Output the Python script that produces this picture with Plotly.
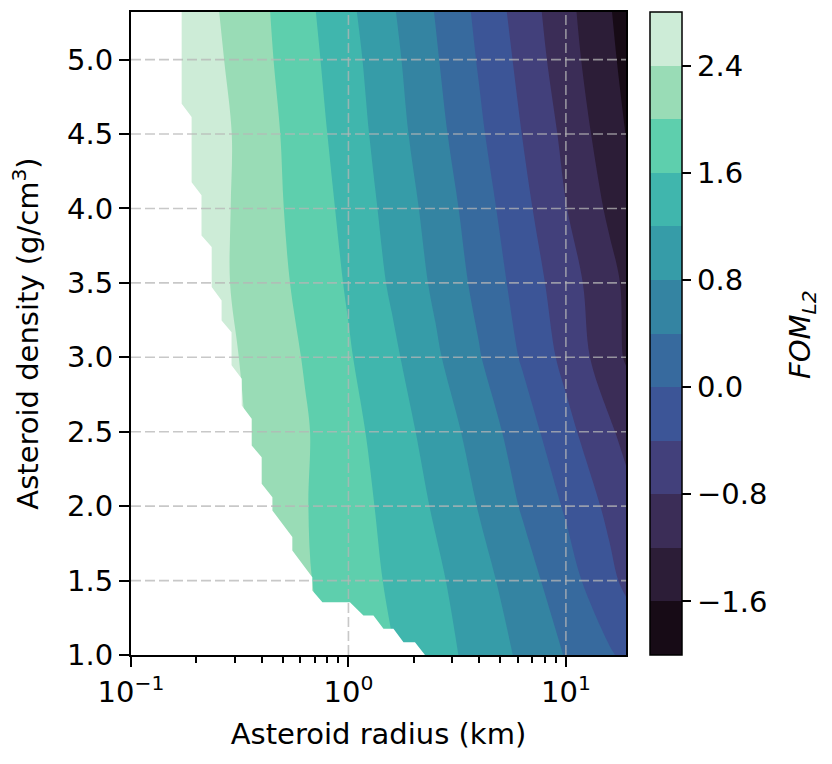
import math
import plotly.graph_objects as go

# ---------------- data ----------------
radius_km = [0.1, 0.158, 0.251, 0.398, 0.631, 1.0, 1.585, 2.512, 3.981, 6.31, 10.0, 15.85, 18.9]
density = [1.0, 1.5, 2.0, 2.5, 3.0, 3.5, 4.0, 4.5, 5.0, 5.32]

fom_rho_1_0 = [3.9, 3.2, 2.8, 2.4, 2.1, 1.887, 1.619, 1.354, 1.062, 0.726, 0.378, 0.044, -0.085]
fom_rho_1_5 = [3.8, 3.1, 2.7, 2.285, 2.04, 1.796, 1.547, 1.279, 0.948, 0.572, 0.168, -0.297, -0.488]
fom_rho_2_0 = [3.7, 3.0, 2.6, 2.273, 2.02, 1.767, 1.488, 1.154, 0.780, 0.363, -0.043, -0.493, -0.66]
fom_rho_2_5 = [3.6, 2.9, 2.566, 2.299, 2.036, 1.729, 1.398, 1.034, 0.636, 0.193, -0.281, -0.740, -0.916]
fom_rho_3_0 = [3.5, 2.825, 2.535, 2.254, 1.975, 1.638, 1.281, 0.863, 0.429, -0.042, -0.509, -1.034, -1.236]
fom_rho_3_5 = [3.5, 2.84, 2.48, 2.193, 1.899, 1.558, 1.144, 0.729, 0.291, -0.163, -0.619, -1.084, -1.265]
fom_rho_4_0 = [3.5, 2.88, 2.498, 2.164, 1.845, 1.491, 1.055, 0.643, 0.187, -0.282, -0.789, -1.265, -1.447]
fom_rho_4_5 = [3.4, 2.90, 2.516, 2.152, 1.801, 1.411, 0.967, 0.529, 0.068, -0.407, -0.895, -1.421, -1.61]
fom_rho_5_0 = [3.35, 2.885, 2.45, 2.099, 1.743, 1.342, 0.901, 0.441, -0.031, -0.508, -1.026, -1.521, -1.70]
fom_rho_5_32 = [3.3, 2.87, 2.41, 2.074, 1.705, 1.286, 0.842, 0.385, -0.087, -0.575, -1.080, -1.570, -1.756]

# boundary of the region with no valid FOM (left white area)
mask_edge_radius = [0.1, 0.171, 0.171, 0.190, 0.190, 0.211, 0.211, 0.235, 0.235, 0.261, 0.261,
                    0.290, 0.290, 0.323, 0.323, 0.359, 0.359, 0.399, 0.399, 0.447, 0.447,
                    0.552, 0.552, 0.682, 0.682, 0.759, 1.016, 1.172, 1.303, 1.449, 1.611,
                    1.791, 2.023, 2.249, 0.1]
mask_edge_density = [5.32, 5.32, 4.704, 4.614, 4.177, 4.088, 3.819, 3.741, 3.472, 3.382, 3.248,
                     3.169, 2.946, 2.856, 2.677, 2.587, 2.408, 2.329, 2.151, 2.060, 1.971,
                     1.792, 1.702, 1.523, 1.433, 1.355, 1.355, 1.265, 1.265, 1.176, 1.176,
                     1.086, 1.086, 1.0, 1.0]

level_start, level_end, level_step = -2.0, 2.8, 0.4
cbar_tickvals = [-1.6, -0.8, 0.0, 0.8, 1.6, 2.4]
cbar_ticktext = ["\u22121.6", "\u22120.8", "0.0", "0.8", "1.6", "2.4"]
cbar_title = "<i>FOM<sub>L2</sub></i>"
x_tickvals = [0.1, 1.0, 10.0]
x_ticktext = ["10<sup>\u22121</sup>", "10<sup>0</sup>", "10<sup>1</sup>"]
y_tickvals = [1.0, 1.5, 2.0, 2.5, 3.0, 3.5, 4.0, 4.5, 5.0]
x_grid_vals = [1.0, 10.0]
y_grid_vals = [1.5, 2.0, 2.5, 3.0, 3.5, 4.0, 4.5, 5.0]
x_range = [0.1, 18.9]
y_range = [1.0, 5.32]

band_colors = ["#170b16", "#2c1d37", "#3b2d57", "#42407b", "#3c5597", "#376a9e",
               "#3484a2", "#369ca8", "#40b6ad", "#5ecfad", "#99dcb6", "#cdecd7"]

# ---------------- figure ----------------
z = [fom_rho_1_0, fom_rho_1_5, fom_rho_2_0, fom_rho_2_5, fom_rho_3_0,
     fom_rho_3_5, fom_rho_4_0, fom_rho_4_5, fom_rho_5_0, fom_rho_5_32]

n = len(band_colors)
colorscale = []
for k, c in enumerate(band_colors):
    colorscale.append([k / n, c])
    colorscale.append([(k + 1) / n, c])

FONT = "DejaVu Sans"
FS = 29
PLOT_L, PLOT_R, PLOT_T, PLOT_B = 131, 626, 12, 655
W, H = 832, 764
pw = PLOT_R - PLOT_L
ph = PLOT_B - PLOT_T

fig = go.Figure()
fig.add_trace(go.Contour(
    x=radius_km, y=density, z=z,
    zmin=level_start, zmax=level_end + 1e-6,
    autocontour=False,
    contours=dict(start=level_start, end=level_end, size=level_step,
                  coloring="fill", showlines=False),
    line=dict(width=0),
    colorscale=colorscale,
    colorbar=dict(
        x=(650 - PLOT_L) / pw, xanchor="left", xpad=0, ypad=0,
        y=0.5, yanchor="middle", len=1.0, lenmode="fraction",
        thickness=32, thicknessmode="pixels",
        outlinecolor="black", outlinewidth=1.5,
        tickmode="array", tickvals=cbar_tickvals, ticktext=cbar_ticktext,
        ticks="outside", ticklen=9, tickwidth=1.5, tickcolor="black",
        tickfont=dict(family=FONT, size=FS, color="black"),
    ),
    hoverinfo="skip",
))

# white area where no value exists
fig.add_trace(go.Scatter(
    x=mask_edge_radius, y=mask_edge_density, mode="lines",
    fill="toself", fillcolor="white", line=dict(width=0, color="white"),
    hoverinfo="skip", showlegend=False,
))

grid_style = dict(color="rgba(182,182,182,0.75)", width=1.6, dash="10px,4px")
for gx in x_grid_vals:
    fig.add_trace(go.Scatter(x=[gx, gx], y=y_range, mode="lines", line=grid_style,
                             hoverinfo="skip", showlegend=False))
for gy in y_grid_vals:
    fig.add_trace(go.Scatter(x=x_range, y=[gy, gy], mode="lines", line=grid_style,
                             hoverinfo="skip", showlegend=False))

fig.add_annotation(
    text=cbar_title, xref="paper", yref="paper",
    x=(802 - PLOT_L) / pw, y=(PLOT_B - 335) / ph,
    xanchor="center", yanchor="middle", textangle=-90, showarrow=False,
    font=dict(family=FONT, size=FS, color="black"),
)

fig.update_layout(
    width=W, height=H,
    margin=dict(l=PLOT_L, r=W - PLOT_R, t=PLOT_T, b=H - PLOT_B, pad=0),
    paper_bgcolor="white", plot_bgcolor="white",
    showlegend=False,
    font=dict(family=FONT, size=FS, color="black"),
    xaxis=dict(
        type="log", range=[math.log10(x_range[0]), math.log10(x_range[1])],
        tickmode="array", tickvals=x_tickvals, ticktext=x_ticktext,
        automargin=False,
        showgrid=False, zeroline=False,
        showline=True, linecolor="black", linewidth=2, mirror=True,
        ticks="outside", ticklen=10, tickwidth=2, tickcolor="black",
        minor=dict(ticks="outside", ticklen=6, tickwidth=1.5, tickcolor="black",
                   dtick="D1", showgrid=False),
        tickfont=dict(family=FONT, size=FS, color="black"),
        title=dict(text="Asteroid radius (km)", standoff=16,
                   font=dict(family=FONT, size=FS, color="black")),
    ),
    yaxis=dict(
        range=y_range, tickmode="array", tickvals=y_tickvals,
        ticktext=[f"{v:.1f}" for v in y_tickvals],
        automargin=False,
        showgrid=False, zeroline=False,
        showline=True, linecolor="black", linewidth=2, mirror=True,
        ticks="outside", ticklen=10, tickwidth=2, tickcolor="black",
        tickfont=dict(family=FONT, size=FS, color="black"),
        title=dict(text="Asteroid density (g/cm<sup>3</sup>)", standoff=20,
                   font=dict(family=FONT, size=FS, color="black")),
    ),
)

fig.write_html("out.html", config={"displayModeBar": False},
               post_script="document.body.style.margin='0px';")
